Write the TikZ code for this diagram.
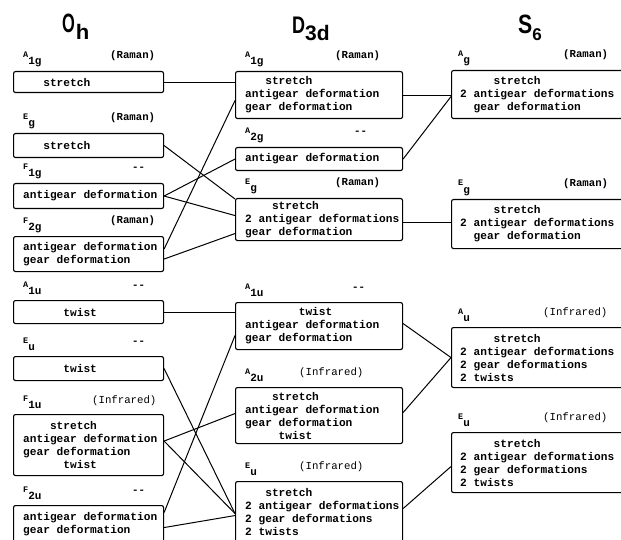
\documentclass[tikz,border=0pt]{standalone}
\usepackage{fontspec}
\usepackage{graphicx}
\newfontfamily\monof{Liberation Mono}
\newfontfamily\titlef{Liberation Sans}
\newcommand\ind[1]{\hspace*{#1\dimexpr0.6em\relax}}
\tikzset{
  bx/.style={draw, line width=1.1pt, rounded corners=2pt, anchor=north west, inner sep=0pt},
  obox/.style={bx, minimum width=150pt},
  dbox/.style={bx, minimum width=167pt},
  sbox/.style={bx, minimum width=172pt},
  tx/.style={anchor=west, align=left, inner sep=0pt,
    font=\monof\bfseries\fontsize{11.17}{13}\selectfont},
  symL/.style={inner sep=0pt, anchor=base west, font=\monof\bfseries},
  actR/.style={inner sep=0pt, anchor=base west, font=\monof\bfseries\fontsize{10.7}{12}\selectfont},
  actI/.style={inner sep=0pt, anchor=base west, font=\monof\fontsize{10.7}{12}\selectfont},
  ttl/.style={inner sep=0pt, anchor=base west, font=\titlef\bfseries},
  conn/.style={line width=1pt}
}
\newcommand\sym[2]{{\fontsize{8.5}{9}\selectfont #1}\raisebox{-7pt}{\fontsize{11}{12}\selectfont #2}}
\begin{document}
\begin{tikzpicture}[x=1pt,y=-1pt]
\clip (0,0) rectangle (621,540);
% titles
\node[ttl] (tO) at (62,33) {\scalebox{0.62}[1]{\fontsize{26.5}{27}\selectfont O}\hspace{1pt}\raisebox{-7pt}{\scalebox{1.05}[1]{\fontsize{21}{21}\selectfont h}}};
\node[ttl] (tD) at (292,34) {\scalebox{0.75}[1]{\fontsize{24}{24}\selectfont D}\raisebox{-7pt}{\fontsize{21}{21}\selectfont 3d}};
\node[ttl] (tS) at (518,34) {\scalebox{0.8}[1]{\fontsize{26.5}{27}\selectfont S}\raisebox{-7pt}{\fontsize{17}{17}\selectfont 6}};

% O_h boxes
\node[obox, minimum height=21pt] (oA1g) at (13,71) {};
\node[obox, minimum height=24pt] (oEg) at (13,133) {};
\node[obox, minimum height=25pt] (oF1g) at (13,183) {};
\node[obox, minimum height=35pt] (oF2g) at (13,236) {};
\node[obox, minimum height=23pt] (oA1u) at (13,300) {};
\node[obox, minimum height=24pt] (oEu) at (13,356) {};
\node[obox, minimum height=61pt] (oF1u) at (13,414) {};
\node[obox, minimum height=38pt] (oF2u) at (13,505) {};
\node[tx] (toA1g) at ([xshift=10pt]oA1g.west) {\ind{3}stretch};
\node[tx] (toEg) at ([xshift=10pt]oEg.west) {\ind{3}stretch};
\node[tx] (toF1g) at ([xshift=10pt]oF1g.west) {antigear deformation};
\node[tx] (toF2g) at ([xshift=10pt]oF2g.west) {antigear deformation\\gear deformation};
\node[tx] (toA1u) at ([xshift=10pt]oA1u.west) {\ind{6}twist};
\node[tx] (toEu) at ([xshift=10pt]oEu.west) {\ind{6}twist};
\node[tx] (toF1u) at ([xshift=10pt]oF1u.west) {\ind{4}stretch\\antigear deformation\\gear deformation\\\ind{6}twist};
\node[tx] (toF2u) at ([xshift=10pt]oF2u.west) {antigear deformation\\gear deformation};

% D_3d boxes
\node[dbox, minimum height=47pt] (dA1g) at (235,71) {};
\node[dbox, minimum height=23pt] (dA2g) at (235,147) {};
\node[dbox, minimum height=42pt] (dEg) at (235,198) {};
\node[dbox, minimum height=47pt] (dA1u) at (235,302) {};
\node[dbox, minimum height=56pt] (dA2u) at (235,387) {};
\node[dbox, minimum height=61pt] (dEu) at (235,481) {};
\node[tx] (tdA1g) at ([xshift=10pt]dA1g.west) {\ind{3}stretch\\antigear deformation\\gear deformation};
\node[tx] (tdA2g) at ([xshift=10pt]dA2g.west) {antigear deformation};
\node[tx] (tdEg) at ([xshift=10pt]dEg.west) {\ind{4}stretch\\2 antigear deformations\\gear deformation};
\node[tx] (tdA1u) at ([xshift=10pt]dA1u.west) {\ind{8}twist\\antigear deformation\\gear deformation};
\node[tx] (tdA2u) at ([xshift=10pt]dA2u.west) {\ind{4}stretch\\antigear deformation\\gear deformation\\\ind{5}twist};
\node[tx] (tdEu) at ([xshift=10pt]dEu.west) {\ind{3}stretch\\2 antigear deformations\\2 gear deformations\\2 twists};

% S_6 boxes
\node[sbox, minimum height=48pt] (sAg) at (451,70) {};
\node[sbox, minimum height=49pt] (sEg) at (451,199) {};
\node[sbox, minimum height=60pt] (sAu) at (451,327) {};
\node[sbox, minimum height=60pt] (sEu) at (451,432) {};
\node[tx] (tsAg) at ([xshift=9pt]sAg.west) {\ind{5}stretch\\2 antigear deformations\\\ind{2}gear deformation};
\node[tx] (tsEg) at ([xshift=9pt]sEg.west) {\ind{5}stretch\\2 antigear deformations\\\ind{2}gear deformation};
\node[tx] (tsAu) at ([xshift=9pt]sAu.west) {\ind{5}stretch\\2 antigear deformations\\2 gear deformations\\2 twists};
\node[tx] (tsEu) at ([xshift=9pt]sEu.west) {\ind{5}stretch\\2 antigear deformations\\2 gear deformations\\2 twists};

% symmetry labels
\node[symL] (LoA1g) at ([xshift=10pt,yshift=13pt]oA1g.north west) {\sym{A}{1g}};
\node[symL] (LoEg) at ([xshift=10pt,yshift=13pt]oEg.north west) {\sym{E}{g}};
\node[symL] (LoF1g) at ([xshift=10pt,yshift=13pt]oF1g.north west) {\sym{F}{1g}};
\node[symL] (LoF2g) at ([xshift=10pt,yshift=13pt]oF2g.north west) {\sym{F}{2g}};
\node[symL] (LoA1u) at ([xshift=10pt,yshift=13pt]oA1u.north west) {\sym{A}{1u}};
\node[symL] (LoEu) at ([xshift=10pt,yshift=13pt]oEu.north west) {\sym{E}{u}};
\node[symL] (LoF1u) at ([xshift=10pt,yshift=13pt]oF1u.north west) {\sym{F}{1u}};
\node[symL] (LoF2u) at ([xshift=10pt,yshift=13pt]oF2u.north west) {\sym{F}{2u}};

\node[symL] (LdA1g) at ([xshift=10pt,yshift=13pt]dA1g.north west) {\sym{A}{1g}};
\node[symL] (LdA2g) at ([xshift=10pt,yshift=13pt]dA2g.north west) {\sym{A}{2g}};
\node[symL] (LdEg) at ([xshift=10pt,yshift=13pt]dEg.north west) {\sym{E}{g}};
\node[symL] (LdA1u) at ([xshift=10pt,yshift=13pt]dA1u.north west) {\sym{A}{1u}};
\node[symL] (LdA2u) at ([xshift=10pt,yshift=13pt]dA2u.north west) {\sym{A}{2u}};
\node[symL] (LdEu) at ([xshift=10pt,yshift=13pt]dEu.north west) {\sym{E}{u}};

\node[symL] (LsAg) at ([xshift=7pt,yshift=13pt]sAg.north west) {\sym{A}{g}};
\node[symL] (LsEg) at ([xshift=7pt,yshift=13pt]sEg.north west) {\sym{E}{g}};
\node[symL] (LsAu) at ([xshift=7pt,yshift=13pt]sAu.north west) {\sym{A}{u}};
\node[symL] (LsEu) at ([xshift=7pt,yshift=13pt]sEu.north west) {\sym{E}{u}};

% activity labels
\node[actR] (aoA1g) at (110,59) {(Raman)};
\node[actR] (aoEg) at (110,121) {(Raman)};
\node[actR] (aoF1g) at (132,171) {-{}-};
\node[actR] (aoF2g) at (110,224) {(Raman)};
\node[actR] (aoA1u) at (132,288) {-{}-};
\node[actR] (aoEu) at (132,344) {-{}-};
\node[actI] (aoF1u) at (92,403) {(Infrared)};
\node[actR] (aoF2u) at (132,493) {-{}-};

\node[actR] (adA1g) at (335,59) {(Raman)};
\node[actR] (adA2g) at (354,135) {-{}-};
\node[actR] (adEg) at (335,186) {(Raman)};
\node[actR] (adA1u) at (352,290) {-{}-};
\node[actI] (adA2u) at (299,375) {(Infrared)};
\node[actI] (adEu) at (299,469) {(Infrared)};

\node[actR] (asAg) at (563,58) {(Raman)};
\node[actR] (asEg) at (563,187) {(Raman)};
\node[actI] (asAu) at (543,315) {(Infrared)};
\node[actI] (asEu) at (543,420) {(Infrared)};

% connectors O_h -> D_3d (gerade)
\draw[conn] (oA1g.east) -- (oA1g.east -| dA1g.west);
\draw[conn] (oEg.east) -- ([yshift=-1pt]dEg.north west);
\draw[conn] (oF1g.east) -- (dA2g.west);
\draw[conn] (oF1g.east) -- ([yshift=4pt]dEg.west);
\draw[conn] ([yshift=5pt]oF2g.east) -- ([yshift=-5.5pt]dA1g.west);
\draw[conn] ([yshift=-5pt]oF2g.east) -- ([yshift=-14pt]dEg.west);
% D_3d -> S_6 (gerade)
\draw[conn] (dA1g.east) -- (dA1g.east -| sAg.west);
\draw[conn] (dA2g.east) -- ([yshift=-2pt]sAg.west);
\draw[conn] ([yshift=-3pt]dEg.east) -- ([yshift=-3pt]dEg.east -| sEg.west);
% O_h -> D_3d (ungerade)
\draw[conn] (oA1u.east) -- (oA1u.east -| dA1u.west);
\draw[conn] (oEu.east) -- ([yshift=-1.5pt]dEu.west);
\draw[conn] ([yshift=4pt]oF1u.east) -- ([yshift=2pt]dA2u.west);
\draw[conn] ([yshift=4pt]oF1u.east) -- ([yshift=-1.5pt]dEu.west);
\draw[conn] ([yshift=12pt]oF2u.east) -- ([yshift=-9.5pt]dA1u.west);
\draw[conn] ([yshift=-3pt]oF2u.east) -- ([yshift=-3.5pt]dEu.west);
% D_3d -> S_6 (ungerade)
\draw[conn] ([yshift=2.5pt]dA1u.east) -- (sAu.west);
\draw[conn] ([yshift=3pt]dA2u.east) -- (sAu.west);
\draw[conn] ([yshift=3.5pt]dEu.east) -- ([yshift=-4pt]sEu.west);
\end{tikzpicture}
\end{document}
